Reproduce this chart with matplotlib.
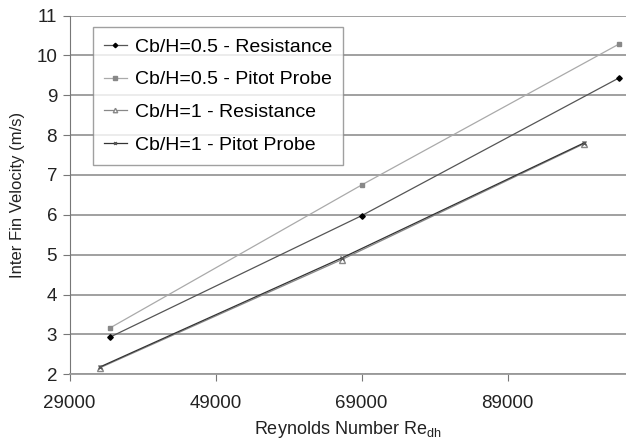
import matplotlib.pyplot as plt

plt.rcParams['font.family'] = ['Liberation Sans', 'DejaVu Sans']
plt.rcParams['mathtext.fontset'] = 'custom'
plt.rcParams['mathtext.rm'] = 'Liberation Sans'

# Data
re_05 = [34500, 69000, 104300]
res_05 = [2.93, 5.98, 9.44]
pitot_05 = [3.16, 6.75, 10.29]

re_1 = [33100, 66300, 99400]
res_1 = [2.16, 4.88, 7.78]
pitot_1 = [2.18, 4.92, 7.80]

labels = ["Cb/H=0.5 - Resistance", "Cb/H=0.5 - Pitot Probe",
          "Cb/H=1 - Resistance", "Cb/H=1 - Pitot Probe"]

fig = plt.figure(figsize=(6.26, 4.43), dpi=100)
ax = fig.add_axes([69.6 / 626, 0.155, 1 - 69.6 / 626, 0.81])

ax.plot(re_05, res_05, color="#555555", lw=0.9, marker="D", ms=2.8,
        mfc="black", mec="black", label=labels[0])
ax.plot(re_05, pitot_05, color="#aaaaaa", lw=0.9, marker="s", ms=3.2,
        mfc="#888888", mec="#888888", label=labels[1])
ax.plot(re_1, res_1, color="#888888", lw=0.9, marker="^", ms=4,
        mfc="white", mec="#888888", label=labels[2])
ax.plot(re_1, pitot_1, color="#333333", lw=0.9, marker="x", ms=2.5,
        mec="#555555", label=labels[3])

ax.set_xlim(29000, 105200)
ax.set_ylim(2, 11)
ax.set_xticks([29000, 49000, 69000, 89000])
ax.set_yticks(range(2, 12))
ax.yaxis.grid(True, color="#999999", lw=1.3)
ax.set_axisbelow(True)

for s in ["top", "right"]:
    ax.spines[s].set_visible(False)
ax.spines["left"].set_color("#777777")
ax.spines["bottom"].set_color("#999999")
ax.spines["bottom"].set_linewidth(1.3)
ax.tick_params(direction="out", length=5, color="#777777", labelsize=13.5,
               labelcolor="#222222")
ax.tick_params(axis="x", pad=10)
ax.tick_params(axis="y", pad=4)

ax.set_ylabel("Inter Fin Velocity (m/s)", fontsize=12, color="#222222", labelpad=8)
ax.set_xlabel("Reynolds Number Re$_{\\mathregular{dh}}$", fontsize=13,
              color="#222222", labelpad=5)

leg = ax.legend(loc="upper left", bbox_to_anchor=(0.042, 0.967), fontsize=14,
                frameon=True, fancybox=False, edgecolor="#888888",
                handlelength=1.2, handletextpad=0.4, labelspacing=0.78,
                borderpad=0.55, borderaxespad=0, markerscale=0.8)
leg.get_frame().set_linewidth(1.0)

fig.savefig("out.png", dpi=100)
